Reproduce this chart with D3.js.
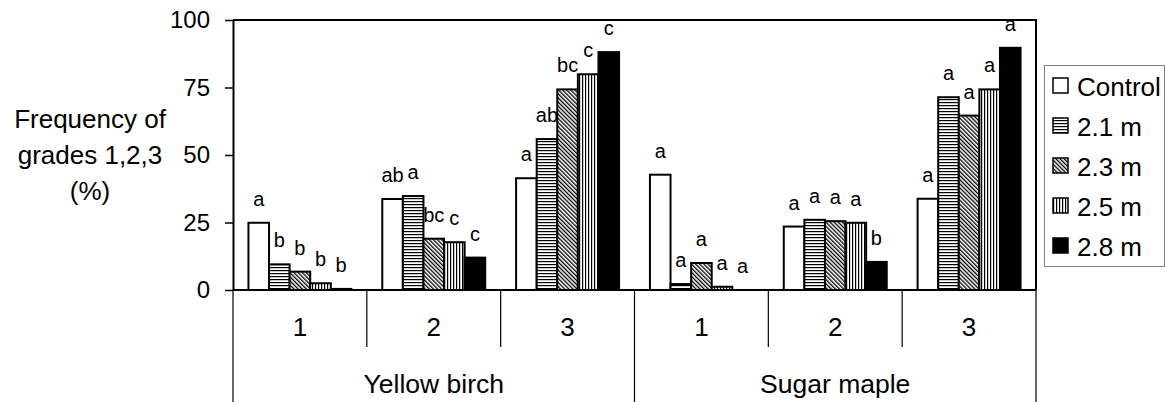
<!DOCTYPE html>
<html>
<head>
<meta charset="utf-8">
<script src="https://cdn.jsdelivr.net/npm/d3@7"></script>
<style>
  html, body { margin: 0; padding: 0; background: #fff; }
  svg { display: block; font-family: "Liberation Sans", Arial, sans-serif; }
</style>
</head>
<body>
<svg id="chart" width="1165" height="402"></svg>
<script>
// Species groups and grade categories along the x axis
const species = ["Yellow birch", "Sugar maple"];
const grades = ["1", "2", "3"];
const treatments = ["Control", "2.1 m", "2.3 m", "2.5 m", "2.8 m"];
const yTicks = [0, 25, 50, 75, 100];

// Frequency (%) per category: YB1, YB2, YB3, SM1, SM2, SM3
const controlValues = [24.9, 33.7, 41.4, 42.7, 23.5, 33.8];
const m21Values = [9.5, 34.8, 55.9, 2.2, 26.0, 71.4];
const m23Values = [6.8, 19.0, 74.3, 10.0, 25.5, 64.6];
const m25Values = [2.5, 17.7, 79.9, 1.2, 24.9, 74.3];
const m28Values = [0.4, 12.0, 88.1, 0.0, 10.4, 89.7];

// Significance letters per bar
const controlLetters = ["a", "ab", "a", "a", "a", "a"];
const m21Letters = ["b", "a", "ab", "a", "a", "a"];
const m23Letters = ["b", "bc", "bc", "a", "a", "a"];
const m25Letters = ["b", "c", "c", "a", "a", "a"];
const m28Letters = ["b", "c", "c", "a", "b", "a"];

const seriesValues = [controlValues, m21Values, m23Values, m25Values, m28Values];
const seriesLetters = [controlLetters, m21Letters, m23Letters, m25Letters, m28Letters];
const seriesFills = ["#fff", "url(#hlines)", "url(#dlines)", "url(#vlines)", "#000"];

const categories = species.flatMap(s => grades.map(g => s + "|" + g));

const svg = d3.select("#chart");
const plot = { left: 233, right: 1036, top: 20, bottom: 290 };

// Fill patterns
const defs = svg.append("defs");
const hp = defs.append("pattern").attr("id", "hlines").attr("patternUnits", "userSpaceOnUse")
  .attr("width", 4).attr("height", 3);
hp.append("rect").attr("width", 4).attr("height", 3).attr("fill", "#fff");
hp.append("rect").attr("y", 0).attr("width", 4).attr("height", 1.2).attr("fill", "#000");

const vp = defs.append("pattern").attr("id", "vlines").attr("patternUnits", "userSpaceOnUse")
  .attr("width", 3).attr("height", 4);
vp.append("rect").attr("width", 3).attr("height", 4).attr("fill", "#fff");
vp.append("rect").attr("x", 0).attr("width", 1.2).attr("height", 4).attr("fill", "#000");

const dp = defs.append("pattern").attr("id", "dlines").attr("patternUnits", "userSpaceOnUse")
  .attr("width", 2.9).attr("height", 6).attr("patternTransform", "rotate(-45)");
dp.append("rect").attr("width", 2.9).attr("height", 6).attr("fill", "#fff");
dp.append("rect").attr("x", 0).attr("width", 1.3).attr("height", 6).attr("fill", "#000");

// Scales
const x0 = d3.scaleBand().domain(categories).range([plot.left, plot.right]).padding(0);
const x1 = d3.scaleBand().domain(treatments).range([0, x0.bandwidth()])
  .paddingInner(0).paddingOuter(0.75);
const y = d3.scaleLinear().domain([0, 100]).range([plot.bottom, plot.top]);

// Bars
const barData = [];
categories.forEach((c, ci) => {
  treatments.forEach((t, ti) => {
    barData.push({ cat: c, treat: t, value: seriesValues[ti][ci], letter: seriesLetters[ti][ci], fill: seriesFills[ti] });
  });
});

svg.append("g").selectAll("rect").data(barData).join("rect")
  .attr("x", d => x0(d.cat) + x1(d.treat))
  .attr("y", d => y(d.value))
  .attr("width", x1.bandwidth())
  .attr("height", d => y(0) - y(d.value))
  .attr("fill", d => d.fill)
  .attr("stroke", "#000")
  .attr("stroke-width", d => d.value > 0 ? 2 : 0);

// Significance letters
svg.append("g").selectAll("text").data(barData).join("text")
  .attr("x", d => x0(d.cat) + x1(d.treat) + x1.bandwidth() / 2)
  .attr("y", d => y(d.value) - 17)
  .attr("text-anchor", "middle")
  .attr("font-size", 20)
  .text(d => d.letter);

// Plot frame (top and right)
svg.append("path")
  .attr("d", `M${plot.left},${plot.top}H${plot.right}V${plot.bottom}`)
  .attr("fill", "none").attr("stroke", "#000").attr("stroke-width", 2);

// Y axis
const yAxis = svg.append("g")
  .attr("transform", `translate(${plot.left},0)`)
  .call(d3.axisLeft(y).tickValues(yTicks).tickSize(8).tickSizeOuter(0).tickPadding(15));
yAxis.select(".domain").attr("stroke-width", 2);
yAxis.selectAll(".tick line").attr("stroke-width", 1.5);
yAxis.selectAll("text").attr("font-size", 24).attr("font-family", null).attr("fill", "#000");

// X axis: baseline, category separators and labels
svg.append("line")
  .attr("x1", plot.left).attr("x2", plot.right)
  .attr("y1", plot.bottom).attr("y2", plot.bottom)
  .attr("stroke", "#000").attr("stroke-width", 2);

const edges = d3.range(categories.length + 1).map(i =>
  i < categories.length ? x0(categories[i]) : plot.right);
svg.append("g").selectAll("line").data(edges).join("line")
  .attr("x1", d => d).attr("x2", d => d)
  .attr("y1", plot.bottom)
  .attr("y2", (d, i) => i % grades.length === 0 ? 402 : 347)
  .attr("stroke", "#000").attr("stroke-width", 1.2);

const xAxis = svg.append("g")
  .attr("transform", `translate(0,${plot.bottom})`)
  .call(d3.axisBottom(x0).tickSize(0).tickPadding(28).tickFormat(d => d.split("|")[1]));
xAxis.select(".domain").remove();
xAxis.selectAll("text").attr("font-size", 26).attr("font-family", null).attr("fill", "#000");

const xs = d3.scaleBand().domain(species).range([plot.left, plot.right]);
svg.append("g").selectAll("text").data(species).join("text")
  .attr("x", d => xs(d) + xs.bandwidth() / 2)
  .attr("y", 393)
  .attr("text-anchor", "middle")
  .attr("font-size", 26.5)
  .text(d => d);

// Y axis title
const title = svg.append("text")
  .attr("text-anchor", "middle")
  .attr("font-size", 26);
["Frequency of", "grades 1,2,3", "(%)"].forEach((line, i) => {
  title.append("tspan").attr("x", 90).attr("y", 128 + i * 36).text(line);
});

// Legend
const legend = svg.append("g");
legend.append("rect")
  .attr("x", 1044.5).attr("y", 65.5).attr("width", 120).attr("height", 201)
  .attr("fill", "#fff").attr("stroke", "#808080").attr("stroke-width", 1);
const items = legend.selectAll("g.item").data(treatments).join("g")
  .attr("class", "item")
  .attr("transform", (d, i) => `translate(0,${86 + i * 40})`);
items.append("rect")
  .attr("x", 1053).attr("y", -8).attr("width", 15).attr("height", 15)
  .attr("fill", (d, i) => seriesFills[i])
  .attr("stroke", "#000").attr("stroke-width", 1.5);
items.append("text")
  .attr("x", 1077).attr("y", 10)
  .attr("font-size", 26)
  .text(d => d);
</script>
</body>
</html>
